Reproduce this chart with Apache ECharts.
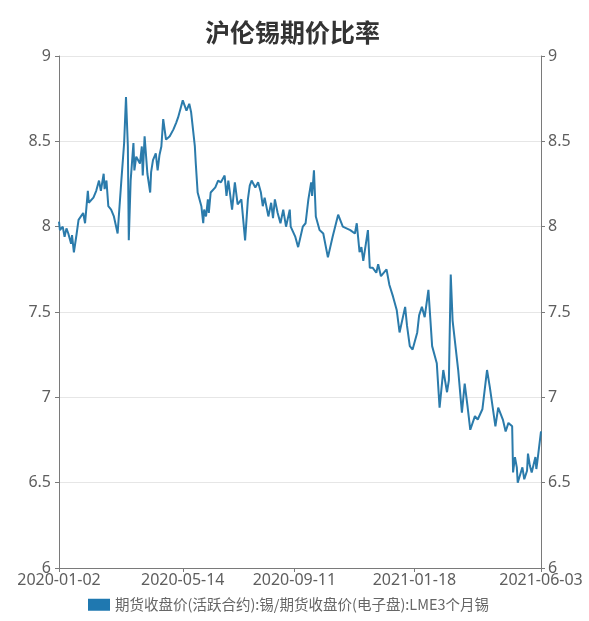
<!DOCTYPE html>
<html>
<head>
<meta charset="utf-8">
<script src="https://cdn.jsdelivr.net/npm/echarts@6/dist/echarts.min.js"></script>
<style>
  html, body { margin: 0; padding: 0; background: #ffffff; }
  #chart { width: 589px; height: 621px; }
</style>
</head>
<body>
<div id="chart"></div>
<script>
const titleText = '沪伦锡期价比率';
const seriesName = '期货收盘价(活跃合约):锡/期货收盘价(电子盘):LME3个月锡';
const xTickLabels = ['2020-01-02', '2020-05-14', '2020-09-11', '2021-01-18', '2021-06-03'];
const yTicks = [6, 6.5, 7, 7.5, 8, 8.5, 9];

const dates = [
  '2020-01-02','2020-01-03','2020-01-06','2020-01-08','2020-01-10','2020-01-12','2020-01-15','2020-01-16','2020-01-18','2020-01-21',
  '2020-01-23','2020-01-28','2020-01-30','2020-02-02','2020-02-03','2020-02-08','2020-02-11','2020-02-14','2020-02-16','2020-02-19',
  '2020-02-20','2020-02-22','2020-02-24','2020-02-27','2020-03-01','2020-03-05','2020-03-09','2020-03-12','2020-03-14','2020-03-16',
  '2020-03-17','2020-03-19','2020-03-22','2020-03-23','2020-03-25','2020-03-29','2020-03-31','2020-04-01','2020-04-03','2020-04-06',
  '2020-04-09','2020-04-10','2020-04-12','2020-04-15','2020-04-17','2020-04-19','2020-04-21','2020-04-23','2020-04-26','2020-04-30',
  '2020-05-04','2020-05-07','2020-05-09','2020-05-12','2020-05-14','2020-05-18','2020-05-21','2020-05-23','2020-05-25','2020-05-27',
  '2020-05-28','2020-05-30','2020-06-03','2020-06-05','2020-06-06','2020-06-08','2020-06-10','2020-06-11','2020-06-13','2020-06-18',
  '2020-06-21','2020-06-24','2020-06-28','2020-06-30','2020-07-02','2020-07-06','2020-07-09','2020-07-12','2020-07-16','2020-07-20',
  '2020-07-23','2020-07-25','2020-07-27','2020-07-31','2020-08-03','2020-08-06','2020-08-08','2020-08-10','2020-08-14','2020-08-17',
  '2020-08-19','2020-08-21','2020-08-24','2020-08-27','2020-08-30','2020-09-02','2020-09-06','2020-09-07','2020-09-12','2020-09-15',
  '2020-09-20','2020-09-23','2020-09-26','2020-09-29','2020-09-30','2020-10-02','2020-10-04','2020-10-08','2020-10-12','2020-10-17',
  '2020-10-22','2020-10-28','2020-11-02','2020-11-10','2020-11-15','2020-11-17','2020-11-20','2020-11-22','2020-11-24','2020-11-29',
  '2020-12-01','2020-12-04','2020-12-08','2020-12-10','2020-12-13','2020-12-19','2020-12-22','2020-12-26','2020-12-30','2021-01-02',
  '2021-01-08','2021-01-10','2021-01-13','2021-01-16','2021-01-21','2021-01-23','2021-01-26','2021-01-29','2021-02-02','2021-02-06',
  '2021-02-11','2021-02-14','2021-02-16','2021-02-18','2021-02-22','2021-02-24','2021-02-26','2021-02-28','2021-03-06','2021-03-10',
  '2021-03-13','2021-03-16','2021-03-19','2021-03-24','2021-03-27','2021-04-01','2021-04-06','2021-04-09','2021-04-15','2021-04-18',
  '2021-04-23','2021-04-26','2021-04-29','2021-05-03','2021-05-04','2021-05-06','2021-05-08','2021-05-09','2021-05-14','2021-05-16',
  '2021-05-19','2021-05-20','2021-05-22','2021-05-24','2021-05-28','2021-05-29','2021-05-30','2021-06-03'
];

const ratios = [
  8.03,7.98,8.00,7.94,7.99,7.96,7.90,7.95,7.85,7.96,
  8.04,8.08,8.02,8.21,8.14,8.17,8.21,8.27,8.21,8.31,
  8.22,8.27,8.12,8.10,8.06,7.96,8.27,8.49,8.76,8.47,
  7.92,8.27,8.49,8.33,8.41,8.37,8.47,8.30,8.53,8.31,
  8.20,8.32,8.39,8.43,8.33,8.42,8.47,8.63,8.51,8.53,
  8.57,8.61,8.64,8.70,8.74,8.68,8.72,8.67,8.57,8.47,
  8.37,8.20,8.12,8.02,8.10,8.06,8.16,8.08,8.20,8.23,
  8.27,8.26,8.30,8.18,8.27,8.10,8.26,8.13,8.16,7.92,
  8.16,8.24,8.27,8.23,8.26,8.20,8.12,8.17,8.06,8.14,
  8.05,8.16,8.08,8.02,8.10,8.00,8.10,8.00,7.94,7.88,
  8.00,8.02,8.16,8.26,8.18,8.33,8.06,7.98,7.96,7.82,
  7.94,8.07,8.00,7.98,7.96,8.02,7.85,7.88,7.80,7.98,
  7.76,7.76,7.73,7.78,7.71,7.75,7.66,7.59,7.51,7.38,
  7.53,7.42,7.30,7.28,7.38,7.48,7.53,7.47,7.63,7.30,
  7.20,6.94,7.05,7.16,7.03,7.10,7.72,7.45,7.16,6.91,
  7.08,6.95,6.81,6.89,6.87,6.93,7.16,7.06,6.83,6.94,
  6.87,6.80,6.85,6.83,6.56,6.65,6.59,6.50,6.59,6.52,
  6.57,6.67,6.60,6.56,6.65,6.58,6.62,6.80
];

const toTime = s => echarts.number.parseDate(s).getTime();
const seriesData = dates.map((d, i) => [toTime(d), ratios[i]]);
const xTickValues = xTickLabels.map(toTime);

const chart = echarts.init(document.getElementById('chart'), null, { renderer: 'canvas' });
const axisTextColor = '#5e5e5e';
const axisLineColor = '#7a7a7a';
const labelFont = 'Noto Sans';
chart.setOption({
  backgroundColor: '#ffffff',
  animation: false,
  title: {
    text: titleText,
    left: 200,
    top: 15,
    textStyle: { fontFamily: 'Noto Sans CJK SC', fontSize: 25, fontWeight: 'bold', color: '#333333' }
  },
  legend: {
    bottom: 4,
    left: 83,
    itemWidth: 22,
    itemHeight: 12,
    itemGap: 10,
    icon: 'rect',
    textStyle: { fontFamily: 'Noto Sans CJK SC', fontSize: 14.5, color: '#666666' },
    data: [seriesName]
  },
  grid: { left: 59, right: 48, top: 56, bottom: 53, containLabel: false },
  xAxis: {
    type: 'time',
    min: xTickValues[0],
    max: xTickValues[xTickValues.length - 1],
    axisLine: { show: true, lineStyle: { color: axisLineColor } },
    axisTick: { show: true, customValues: xTickValues, length: 4, lineStyle: { color: axisLineColor } },
    axisLabel: {
      customValues: xTickValues,
      formatter: '{yyyy}-{MM}-{dd}',
      fontFamily: labelFont,
      fontSize: 16,
      color: axisTextColor,
      margin: 4,
      hideOverlap: false
    },
    splitLine: { show: false }
  },
  yAxis: [
    {
      type: 'value',
      position: 'left',
      min: yTicks[0],
      max: yTicks[yTicks.length - 1],
      interval: 0.5,
      axisLine: { show: true, lineStyle: { color: axisLineColor } },
      axisTick: { show: true, length: 4, lineStyle: { color: axisLineColor } },
      axisLabel: { fontFamily: labelFont, fontSize: 16, color: axisTextColor, margin: 8 },
      splitLine: { show: true, lineStyle: { color: '#e6e6e6' } }
    },
    {
      type: 'value',
      position: 'right',
      min: yTicks[0],
      max: yTicks[yTicks.length - 1],
      interval: 0.5,
      axisLine: { show: true, lineStyle: { color: axisLineColor } },
      axisTick: { show: true, length: 4, lineStyle: { color: axisLineColor } },
      axisLabel: { fontFamily: labelFont, fontSize: 16, color: axisTextColor, margin: 7 },
      splitLine: { show: false }
    }
  ],
  series: [
    {
      name: seriesName,
      type: 'line',
      yAxisIndex: 0,
      data: seriesData,
      showSymbol: false,
      symbol: 'none',
      lineStyle: { color: '#2b7bab', width: 2 },
      itemStyle: { color: '#1f78b0' }
    }
  ]
});
</script>
</body>
</html>
